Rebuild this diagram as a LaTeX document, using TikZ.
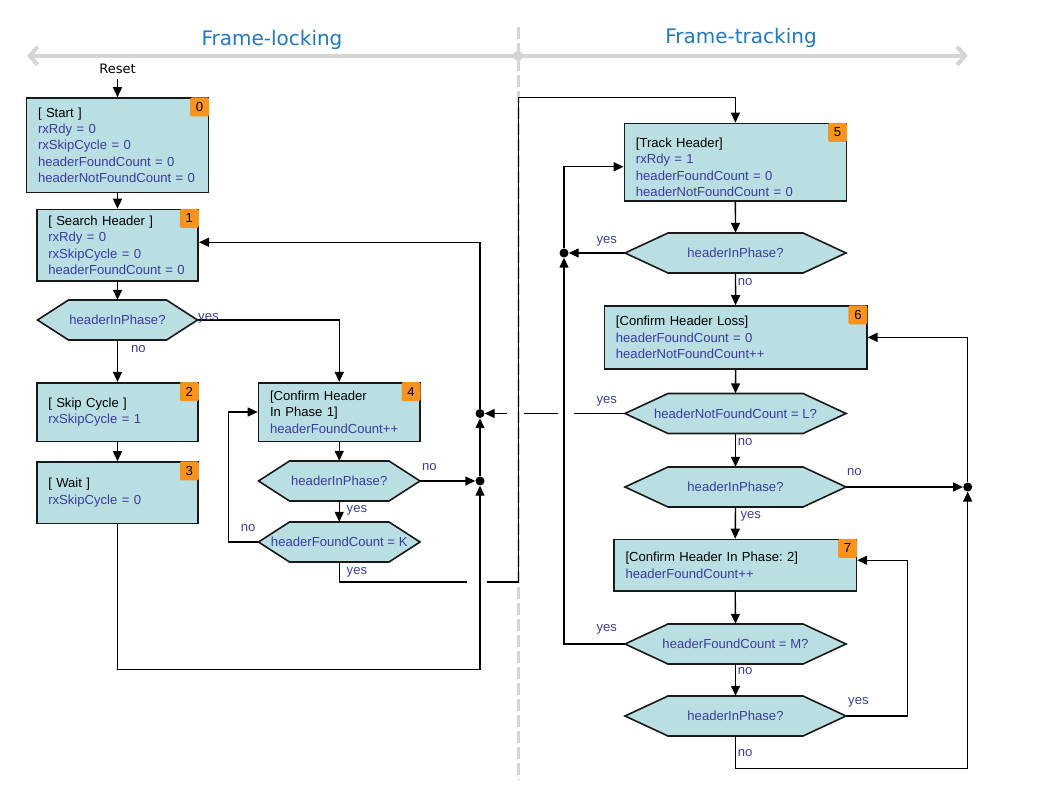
\documentclass[tikz,border=0pt]{standalone}
\usepackage{fontspec}
\setmainfont{Liberation Sans}
\newfontfamily\titlefont{DejaVu Sans}
\usetikzlibrary{arrows.meta}
\frenchspacing
\definecolor{boxfill}{HTML}{B9DFE2}
\definecolor{vblue}{HTML}{3B3BA0}
\definecolor{badgeorange}{HTML}{F7931E}
\definecolor{titleblue}{HTML}{1F78C1}
\definecolor{guide}{HTML}{D5D5D5}
\newcommand{\bxfont}{\fontsize{13.1}{16.4}\selectfont}
\newcommand{\hexagonstate}[5]{%
  \path[hexline, shift={(#2)}] (-#3,0) -- ({-#3+#4},-20) -- ({#3-#4},-20) -- (#3,0) -- ({#3-#4},20) -- ({-#3+#4},20) -- cycle;
  \node[hextext, minimum width={2*#3}] (#1) at (#2) {#5};
}
\tikzset{
  statebox/.style={draw=black!90, line width=1.6pt, fill=boxfill, text=vblue, font=\bxfont, align=left, inner xsep=11.5pt, inner ysep=0pt},
  hexline/.style={draw=black!90, line width=1.6pt, fill=boxfill},
  hextext/.style={text=vblue, font=\bxfont, minimum height=40pt, inner sep=0pt},
  badge/.style={fill=badgeorange, rounded corners=2pt, minimum size=19pt, inner sep=0pt, anchor=north east, font=\bxfont, text=black},
  conn/.style={line width=1.4pt, -{Triangle[length=10pt,width=9pt]}},
  wire/.style={line width=1.4pt},
  lbl/.style={text=vblue, font=\bxfont, inner sep=0pt, anchor=base west},
  jdot/.style={circle, fill=black, inner sep=0pt, minimum size=9pt},
  titletext/.style={text=titleblue, font=\titlefont\fontsize{20}{24}\selectfont, anchor=base, inner sep=0pt},
}
\begin{document}
\begin{tikzpicture}[x=1pt,y=-1pt]
\useasboundingbox (0,0) rectangle (1060,786);
% guides
\coordinate (gvt) at (518,27);
\coordinate (gvb) at (518,780);
\coordinate (ghl) at (27,55.8);
\coordinate (ghr) at (967.7,55.8);
\draw[guide, line width=3pt, dash pattern=on 12pt off 4pt] (gvt) -- (gvb);
\draw[guide, line width=4pt, {Straight Barb[length=8pt,width=18pt]}-{Straight Barb[length=8pt,width=18pt]}] (ghl) -- (ghr);
\node[circle, fill=guide, minimum size=10pt, inner sep=0pt] (gd) at (518,55.8) {};
\node[titletext] (tl) at (272,45.5) {Frame-locking};
\node[titletext] (tt) at (741,44) {Frame-tracking};
\node[font=\titlefont\fontsize{13}{15}\selectfont, anchor=base, inner sep=0pt] (reset) at (117.5,74) {Reset};

% states
\node[statebox, text width=159pt, minimum height=94.5pt] (s0) at (117.5,145.25) {\textcolor{black}{[ Start ]}\\\mbox{rxRdy = 0}\\\mbox{rxSkipCycle = 0}\\\mbox{headerFoundCount = 0}\\\mbox{headerNotFoundCount = 0}};
\node[statebox, text width=138.5pt, minimum height=71.5pt] (s1) at (117.5,245.25) {\textcolor{black}{[ Search Header ]}\\\mbox{rxRdy = 0}\\\mbox{rxSkipCycle = 0}\\\mbox{headerFoundCount = 0}};
\node[statebox, text width=138.5pt, minimum height=58.6pt] (s2) at (117.5,412) {\textcolor{black}{[ Skip Cycle ]}\\\mbox{rxSkipCycle = 1}};
\node[statebox, text width=138.5pt, minimum height=61.4pt] (s3) at (117.5,492.7) {\textcolor{black}{[ Wait ]}\\\mbox{rxSkipCycle = 0}};
\node[statebox, text width=138.5pt, minimum height=58.6pt] (s4) at (339.25,412) {\textcolor{black}{[Confirm Header}\\\textcolor{black}{In Phase 1]}\\\mbox{headerFoundCount++}};
\node[statebox, text width=199pt, minimum height=77.5pt] (s5) at (735.4,162.25) {\rule{0pt}{19.5pt}\textcolor{black}{[Track Header]}\\\mbox{rxRdy = 1}\\\mbox{headerFoundCount = 0}\\\mbox{headerNotFoundCount = 0}};
\node[statebox, text width=239.4pt, minimum height=62.7pt] (s6) at (735.6,337.35) {\textcolor{black}{[Confirm Header Loss]}\\\mbox{headerFoundCount = 0}\\\mbox{headerNotFoundCount++}};
\node[statebox, text width=219.4pt, minimum height=51.5pt] (s7) at (735.2,565.25) {\textcolor{black}{[Confirm Header In Phase: 2]}\\\mbox{headerFoundCount++}};

\node[badge] (b0) at (s0.north east) {0};
\node[badge] (b1) at (s1.north east) {1};
\node[badge] (b2) at (s2.north east) {2};
\node[badge] (b3) at (s3.north east) {3};
\node[badge] (b4) at (s4.north east) {4};
\node[badge] (b5) at (s5.north east) {5};
\node[badge] (b6) at (s6.north east) {6};
\node[badge] (b7) at (s7.north east) {7};

% decisions
\hexagonstate{h1}{117.5,320}{80}{31}{headerInPhase?}
\hexagonstate{h2}{339.25,481}{80.75}{31}{headerInPhase?}
\hexagonstate{h3}{339.25,542}{80.75}{31}{headerFoundCount = K}
\hexagonstate{h4}{735.5,253}{110.5}{43}{headerInPhase?}
\hexagonstate{h5}{735.5,413.5}{110.5}{43}{headerNotFoundCount = L?}
\hexagonstate{h6}{735.5,487}{110.5}{43}{headerInPhase?}
\hexagonstate{h7}{735.5,644}{110.5}{43}{headerFoundCount = M?}
\hexagonstate{h8}{735.5,716}{110.5}{43}{headerInPhase?}

% junctions
\node[jdot] (dA) at (480,413.5) {};
\node[jdot] (dB) at (480,481) {};
\node[jdot] (dC) at (564,253) {};
\node[jdot] (dD) at (967.7,487) {};

% helper coordinates
\coordinate (botL) at (117.5,669.4);
\coordinate (g1) at (467,582);
\coordinate (g2) at (487,582);
\coordinate (rise) at (518.3,582);
\coordinate (over) at (518.3,97.5);
\coordinate (y1) at (574,413.5);
\coordinate (y2) at (558,413.5);
\coordinate (y3) at (524,413.5);
\coordinate (y4) at (507,413.5);

% connectors
\draw[conn] ([yshift=-5pt]reset.south) -- (s0.north);
\draw[conn] (s0.south) -- (s1.north);
\draw[conn] (s1.south) -- (h1.north);
\draw[conn] (h1.south) -- (s2.north);
\draw[conn] (h1.east) -| (s4.north);
\draw[conn] (s2.south) -- (s3.north);
\draw[conn] (s3.south) -- (botL) -| (dB.south);
\draw[conn] (s4.south) -- (h2.north);
\draw[conn] (h2.east) -- (dB.west);
\draw[conn] (h2.south) -- (h3.north);
\draw[conn] (h3.west) -- ++(-30.1,0) |- (s4.west);
\draw[wire] (h3.south) |- (g1);
\draw[conn] (g2) -- (rise) -- (over) -| (s5.north);
\draw[conn] (dB.north) -- (dA.south);
\draw[conn] (dA.north) |- ([yshift=3pt]s1.east);
\draw[wire] (h5.west) -- (y1);
\draw[wire] (y2) -- (y3);
\draw[conn] (y4) -- (dA.east);
\draw[conn] (s5.south) -- (h4.north);
\draw[conn] (h4.west) -- (dC.east);
\draw[conn] (h4.south) -- (s6.north);
\draw[conn] (dC.north) |- ([yshift=-4.5pt]s5.west);
\draw[conn] (s6.south) -- (h5.north);
\draw[conn] (h5.south) -- (h6.north);
\draw[conn] (h6.east) -- (dD.west);
\draw[conn] (h6.south) -- (s7.north);
\draw[conn] (dD.north) |- (s6.east);
\draw[conn] (s7.south) -- (h7.north);
\draw[conn] (h7.west) -| (dC.south);
\draw[conn] (h7.south) -- (h8.north);
\draw[conn] (h8.east) -- ++(61,0) |- ([yshift=5pt]s7.east);
\draw[conn] (h8.south) -- ++(0,32.5) -| (dD.south);

% labels
\node[lbl] (l1) at (131,352.2) {no};
\node[lbl] (l2) at (198,320) {yes};
\node[lbl] (l3) at (422,470) {no};
\node[lbl] (l4) at (346.5,512) {yes};
\node[lbl] (l5) at (240.7,531) {no};
\node[lbl] (l6) at (346.5,574) {yes};
\node[lbl] (l7) at (596.4,243.5) {yes};
\node[lbl] (l8) at (737.6,285.5) {no};
\node[lbl] (l9) at (596.4,403) {yes};
\node[lbl] (l10) at (737.6,445.5) {no};
\node[lbl] (l11) at (847,475) {no};
\node[lbl] (l12) at (740.4,518) {yes};
\node[lbl] (l13) at (596.4,631.5) {yes};
\node[lbl] (l14) at (737.6,674.5) {no};
\node[lbl] (l15) at (848,704) {yes};
\node[lbl] (l16) at (737.6,756.5) {no};
\end{tikzpicture}
\end{document}
